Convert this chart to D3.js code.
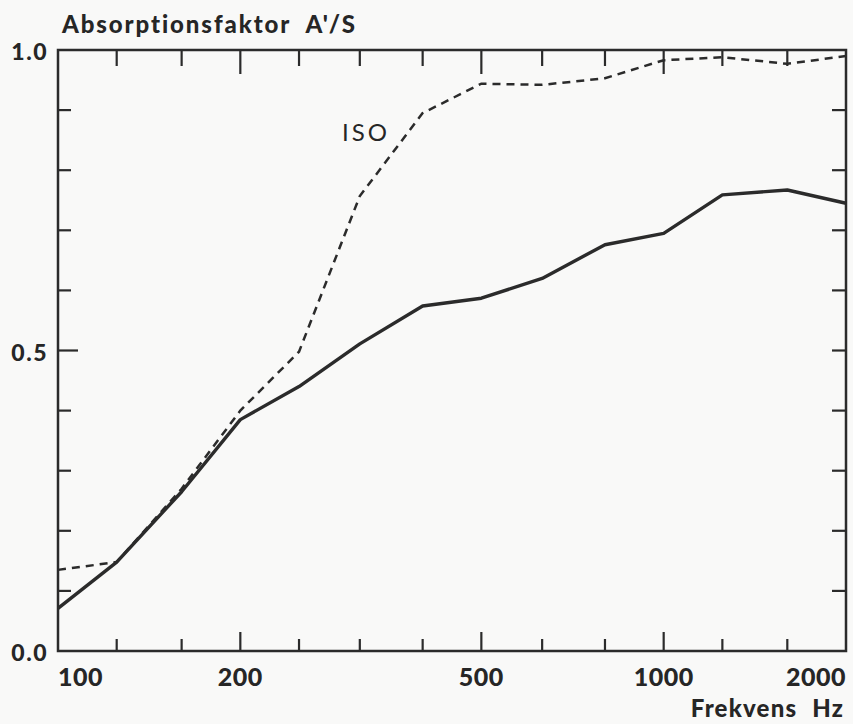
<!DOCTYPE html>
<html>
<head>
<meta charset="utf-8">
<script src="https://cdn.jsdelivr.net/npm/d3@7"></script>
<style>
  body { margin: 0; background: #f9f9f8; }
  svg { display: block; }
  text { font-family: Lato, "Liberation Sans", sans-serif; fill: #262626; }
</style>
</head>
<body>
<script>
// third-octave band centre frequencies
const freqs = [100, 125, 160, 200, 250, 315, 400, 500, 630, 800, 1000, 1250, 1600, 2000];
// measured absorption factor (solid line)
const measured = [0.071, 0.148, 0.265, 0.385, 0.44, 0.511, 0.574, 0.587, 0.62, 0.676, 0.695, 0.759, 0.767, 0.745];
// ISO curve (dashed)
const iso = [0.135, 0.148, 0.27, 0.40, 0.498, 0.757, 0.895, 0.944, 0.942, 0.953, 0.983, 0.988, 0.977, 0.99];

const xLabels = [100, 200, 500, 1000, 2000];
const xMajor = [200, 500, 1000];
const yTicks = [0.1, 0.2, 0.3, 0.4, 0.5, 0.6, 0.7, 0.8, 0.9];
const yLabels = [0.0, 0.5, 1.0];

const width = 853;
const height = 724;
const margin = {top: 50, right: 7, bottom: 73, left: 58};

const svg = d3.select('body').append('svg')
  .attr('width', width)
  .attr('height', height);

const x = d3.scaleLog()
  .domain([100, 2000])
  .range([margin.left, width - margin.right]);

const y = d3.scaleLinear()
  .domain([0, 1])
  .range([height - margin.bottom, margin.top]);

const ink = '#2b2b2b';

// frame
svg.append('rect')
  .attr('x', x(100))
  .attr('y', y(1))
  .attr('width', x(2000) - x(100))
  .attr('height', y(0) - y(1))
  .attr('fill', 'none')
  .attr('stroke', ink)
  .attr('stroke-width', 2.5);

// x ticks, top and bottom, pointing inwards
const inner = freqs.slice(1, -1);
svg.selectAll('.xt-bottom')
  .data(inner)
  .enter().append('line')
  .attr('x1', d => x(d)).attr('x2', d => x(d))
  .attr('y1', y(0))
  .attr('y2', d => y(0) - (xMajor.includes(d) ? 19 : 12))
  .attr('stroke', ink).attr('stroke-width', 2.2);

svg.selectAll('.xt-top')
  .data(inner)
  .enter().append('line')
  .attr('x1', d => x(d)).attr('x2', d => x(d))
  .attr('y1', y(1))
  .attr('y2', d => y(1) + (xMajor.includes(d) ? 24 : 16))
  .attr('stroke', ink).attr('stroke-width', 2.2);

// y ticks, left and right
svg.selectAll('.yt-left')
  .data(yTicks)
  .enter().append('line')
  .attr('x1', x(100))
  .attr('x2', d => x(100) + (d === 0.5 ? 20 : 13))
  .attr('y1', d => y(d)).attr('y2', d => y(d))
  .attr('stroke', ink).attr('stroke-width', 2.2);

svg.selectAll('.yt-right')
  .data(yTicks)
  .enter().append('line')
  .attr('x1', x(2000))
  .attr('x2', x(2000) - 14)
  .attr('y1', d => y(d)).attr('y2', d => y(d))
  .attr('stroke', ink).attr('stroke-width', 2.2);

// tick labels
svg.selectAll('.xl')
  .data(xLabels)
  .enter().append('text')
  .attr('x', d => x(d))
  .attr('y', y(0) + 35)
  .attr('text-anchor', d => d === 100 ? 'start' : (d === 2000 ? 'end' : 'middle'))
  .attr('font-size', 25)
  .attr('font-weight', 900)
  .attr('letter-spacing', 0.5)
  .text(d => d);

svg.selectAll('.yl')
  .data(yLabels)
  .enter().append('text')
  .attr('x', x(100) - 10)
  .attr('y', d => y(d) + 10)
  .attr('text-anchor', 'end')
  .attr('font-size', 23)
  .attr('font-weight', 900)
  .attr('letter-spacing', 1.5)
  .text(d => d.toFixed(1));

// axis titles
svg.append('text')
  .attr('x', 62)
  .attr('y', 33)
  .attr('font-size', 24)
  .attr('font-weight', 900)
  .attr('letter-spacing', 1.9)
  .attr('word-spacing', 8)
  .text("Absorptionsfaktor A'/S");

svg.append('text')
  .attr('x', x(2000) - 2)
  .attr('y', 717)
  .attr('text-anchor', 'end')
  .attr('font-size', 24)
  .attr('font-weight', 900)
  .attr('letter-spacing', 1.2)
  .attr('word-spacing', 8)
  .text('Frekvens Hz');

// curves
const line = d3.line()
  .x(d => x(d[0]))
  .y(d => y(d[1]));

svg.append('path')
  .datum(d3.zip(freqs, iso))
  .attr('d', line)
  .attr('fill', 'none')
  .attr('stroke', ink)
  .attr('stroke-width', 2.5)
  .attr('stroke-dasharray', '8,6');

svg.append('path')
  .datum(d3.zip(freqs, measured))
  .attr('d', line)
  .attr('fill', 'none')
  .attr('stroke', ink)
  .attr('stroke-width', 3.4)
  .attr('stroke-linejoin', 'round');

svg.append('text')
  .attr('x', 342)
  .attr('y', 141)
  .attr('font-size', 24)
  .attr('letter-spacing', 3)
  .text('ISO');
</script>
</body>
</html>
